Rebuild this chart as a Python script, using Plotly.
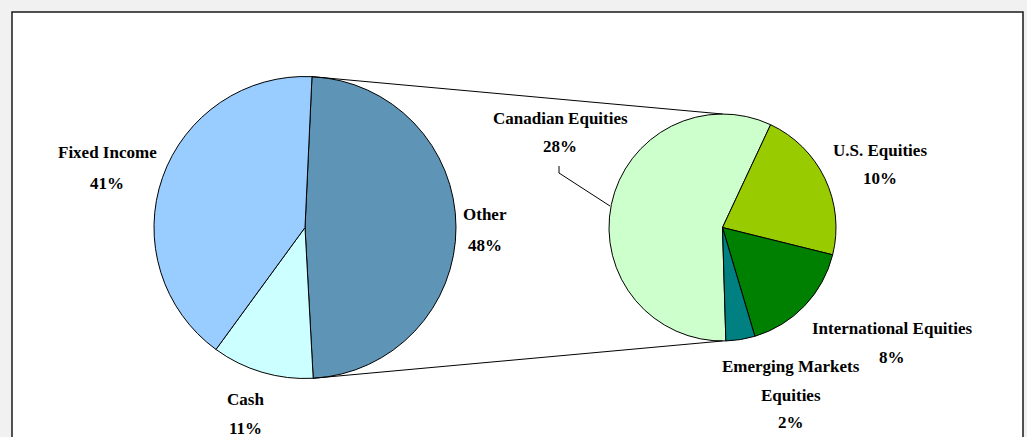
import math
import plotly.graph_objects as go

# ---------------- data ----------------
main_labels = ["Other", "Cash", "Fixed Income"]
main_values = [48.4, 10.9, 40.7]
main_pct_text = ["48%", "11%", "41%"]
main_colors = ["#5E94B6", "#CCFFFF", "#99CCFF"]

sub_labels = ["Canadian Equities", "U.S. Equities", "International Equities", "Emerging Markets Equities"]
sub_values = [27.8, 10.6, 8.0, 2.0]
sub_pct_text = ["28%", "10%", "8%", "2%"]
sub_colors = ["#CCFFCC", "#99CC00", "#008000", "#008080"]

# ---------------- geometry (pixels) ----------------
W, H = 1027, 437
L_CX, L_CY, L_R = 305.0, 227.5, 151.0
R_CX, R_CY, R_R = 722.5, 227.5, 113.5
L_ROT = 2.65
R_ROT = 178.3
FONT = dict(family="Liberation Serif, Times New Roman, serif", size=17, color="#000000", weight="bold")


def px(x):
    return x / W


def py(y):
    return 1 - y / H


def domain(cx, cy, r):
    return dict(x=[px(cx - r), px(cx + r)], y=[py(cy + r), py(cy - r)])


fig = go.Figure()
fig.add_trace(go.Pie(
    labels=main_labels, values=main_values, sort=False, direction="clockwise",
    rotation=L_ROT, marker=dict(colors=main_colors, line=dict(color="#000000", width=1)),
    textinfo="none", hoverinfo="label+percent", domain=domain(L_CX, L_CY, L_R), showlegend=False,
))
fig.add_trace(go.Pie(
    labels=sub_labels, values=sub_values, sort=False, direction="clockwise",
    rotation=R_ROT, marker=dict(colors=sub_colors, line=dict(color="#000000", width=1)),
    textinfo="none", hoverinfo="label+percent", domain=domain(R_CX, R_CY, R_R), showlegend=False,
))

# connector lines: from the edges of the "Other" slice to top/bottom of the second pie
total = sum(main_values)
a0 = math.radians(L_ROT)
a1 = math.radians(L_ROT + 360 * main_values[0] / total)
p_top = (L_CX + L_R * math.sin(a0), L_CY - L_R * math.cos(a0))
p_bot = (L_CX + L_R * math.sin(a1), L_CY - L_R * math.cos(a1))
shapes = [
    # panel
    dict(type="rect", xref="paper", yref="paper", x0=px(12), x1=px(1023), y0=-0.05, y1=py(12),
         fillcolor="#FFFFFF", line=dict(color="#1A1A1A", width=1.5), layer="below"),
    dict(type="line", xref="paper", yref="paper", x0=px(p_top[0]), y0=py(p_top[1]),
         x1=px(R_CX), y1=py(R_CY - R_R), line=dict(color="#000000", width=1)),
    dict(type="line", xref="paper", yref="paper", x0=px(p_bot[0]), y0=py(p_bot[1]),
         x1=px(R_CX), y1=py(R_CY + R_R), line=dict(color="#000000", width=1)),
    # leader for Canadian Equities
    dict(type="path", xref="paper", yref="paper",
         path=f"M {px(559)},{py(166)} L {px(559)},{py(173)} L {px(610)},{py(206)}",
         line=dict(color="#000000", width=1)),
]

# label placements (pixel centres): name lines then percent
label_pos = {
    "Fixed Income": (107, [152], 183),
    "Cash": (245, [399], 428),
    "Other": (485, [214], 245),
    "Canadian Equities": (560, [118], 146),
    "U.S. Equities": (880, [150], 178),
    "International Equities": (892, [328], 357),
    "Emerging Markets Equities": (791, [366, 395], 422),
}
name_lines = {"Emerging Markets Equities": ["Emerging Markets", "Equities"]}

annotations = []
for labs, pcts in ((main_labels, main_pct_text), (sub_labels, sub_pct_text)):
    for lab, pct in zip(labs, pcts):
        x, ys, yp = label_pos[lab]
        lines = name_lines.get(lab, [lab])
        for t, y in zip(lines, ys):
            annotations.append(dict(x=px(x), y=py(y), xref="paper", yref="paper", text=t,
                                    showarrow=False, xanchor="center", yanchor="middle", font=FONT))
        annotations.append(dict(x=px(x), y=py(yp), xref="paper", yref="paper", text=pct,
                                showarrow=False, xanchor="center", yanchor="middle", font=FONT))

fig.update_layout(
    width=W, height=H, margin=dict(l=0, r=0, t=0, b=0),
    paper_bgcolor="#F1F1F1", plot_bgcolor="#FFFFFF",
    shapes=shapes, annotations=annotations, showlegend=False,
)
fig.write_html("out.html", config={"displayModeBar": False},
               post_script="document.body.style.margin='0';document.body.style.overflow='hidden';")
